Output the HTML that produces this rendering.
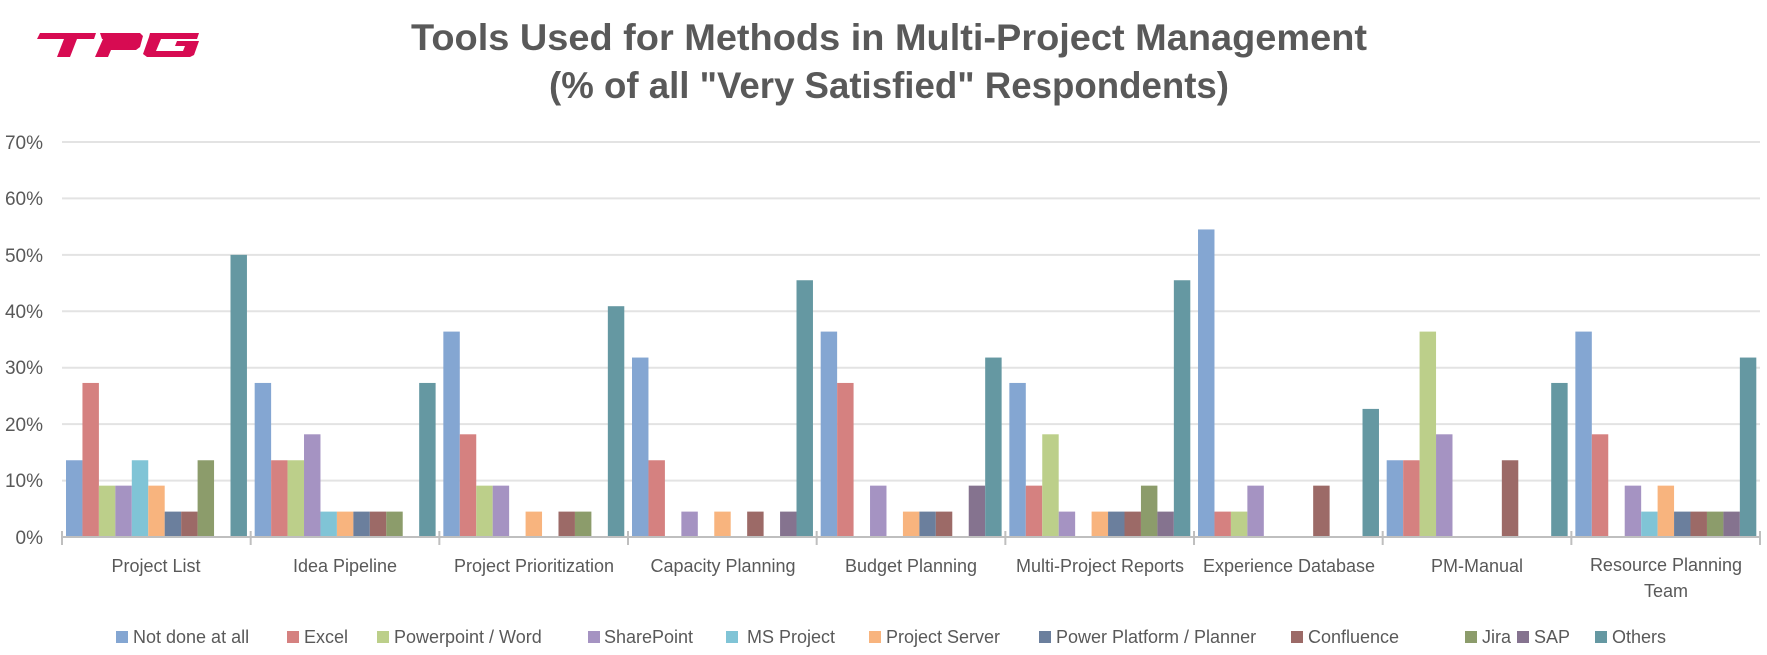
<!DOCTYPE html>
<html><head><meta charset="utf-8"><style>
html,body{margin:0;padding:0;background:#fff;}
svg{display:block;}
text{font-family:"Liberation Sans",sans-serif;fill:#595959;}
</style></head><body>
<svg id="s" width="1767" height="655" viewBox="0 0 1767 655" xmlns="http://www.w3.org/2000/svg">
<!-- logo -->
<g fill="#d70b52">
<polygon points="40,33 96,33 94,39 77,39 70,57 57,57 64,39 37,39"/>
<polygon points="100,33 140,33 143,36 140,47 136,50 111,50 108,57 95,57 103,39 102,39"/>
<polygon points="112,39 109,45 128,45 130,39"/>
<polygon points="150,33 199,33 197,39 161,39 156,51 183,51 185,46 175,46 177,41 199,41 194,55 190,57 147,57 143,54 149,37"/>
</g>
<text x="889" y="50" text-anchor="middle" font-size="37" font-weight="bold" textLength="956" lengthAdjust="spacingAndGlyphs">Tools Used for Methods in Multi-Project Management</text>
<text x="889" y="98" text-anchor="middle" font-size="37" font-weight="bold" textLength="680" lengthAdjust="spacingAndGlyphs">(% of all "Very Satisfied" Respondents)</text>
<g stroke="#e3e3e3" stroke-width="2">
<line x1="62" x2="1760" y1="142" y2="142"/>
<line x1="62" x2="1760" y1="198.4" y2="198.4"/>
<line x1="62" x2="1760" y1="254.9" y2="254.9"/>
<line x1="62" x2="1760" y1="311.3" y2="311.3"/>
<line x1="62" x2="1760" y1="367.7" y2="367.7"/>
<line x1="62" x2="1760" y1="424.1" y2="424.1"/>
<line x1="62" x2="1760" y1="480.6" y2="480.6"/>
</g>
<g font-size="19" text-anchor="end">
<text x="43" y="149">70%</text>
<text x="43" y="205">60%</text>
<text x="43" y="262">50%</text>
<text x="43" y="318">40%</text>
<text x="43" y="374">30%</text>
<text x="43" y="431">20%</text>
<text x="43" y="487">10%</text>
<text x="43" y="544">0%</text>
</g>
<g id="bars"></g>
<g id="axis" stroke="#bfbfbf" stroke-width="2"><line x1="62" x2="1760" y1="537" y2="537"/></g>
<g font-size="18" text-anchor="middle">
<text x="156" y="572">Project List</text>
<text x="345" y="572">Idea Pipeline</text>
<text x="534" y="572">Project Prioritization</text>
<text x="723" y="572">Capacity Planning</text>
<text x="911" y="572">Budget Planning</text>
<text x="1100" y="572">Multi-Project Reports</text>
<text x="1289" y="572">Experience Database</text>
<text x="1477" y="572">PM-Manual</text>
<text x="1666" y="571">Resource Planning</text>
<text x="1666" y="597">Team</text>
</g>
<g font-size="18">
<rect x="116" y="631" width="12" height="12" fill="#84a6d2"/><text x="133" y="643">Not done at all</text>
<rect x="287" y="631" width="12" height="12" fill="#d58180"/><text x="304" y="643">Excel</text>
<rect x="377" y="631" width="12" height="12" fill="#bccf8a"/><text x="394" y="643">Powerpoint / Word</text>
<rect x="588" y="631" width="12" height="12" fill="#a593c2"/><text x="604" y="643">SharePoint</text>
<rect x="726" y="631" width="12" height="12" fill="#80c4d6"/><text x="747" y="643">MS Project</text>
<rect x="869" y="631" width="12" height="12" fill="#f8b47e"/><text x="886" y="643">Project Server</text>
<rect x="1039" y="631" width="12" height="12" fill="#6b7f9d"/><text x="1056" y="643">Power Platform / Planner</text>
<rect x="1291" y="631" width="12" height="12" fill="#9c6a67"/><text x="1308" y="643">Confluence</text>
<rect x="1465" y="631" width="12" height="12" fill="#8c9c6b"/><text x="1482" y="643">Jira</text>
<rect x="1517" y="631" width="12" height="12" fill="#85738f"/><text x="1534" y="643">SAP</text>
<rect x="1595" y="631" width="12" height="12" fill="#6598a2"/><text x="1612" y="643">Others</text>
</g>
</svg>
<script>
var cols=["#84a6d2","#d58180","#bccf8a","#a593c2","#80c4d6","#f8b47e","#6b7f9d","#9c6a67","#8c9c6b","#85738f","#6598a2"];
var d=[
[13.6,27.3,9.1,9.1,13.6,9.1,4.5,4.5,13.6,0,50],
[27.3,13.6,13.6,18.2,4.5,4.5,4.5,4.5,4.5,0,27.3],
[36.4,18.2,9.1,9.1,0,4.5,0,4.5,4.5,0,40.9],
[31.8,13.6,0,4.5,0,4.5,0,4.5,0,4.5,45.5],
[36.4,27.3,0,9.1,0,4.5,4.5,4.5,0,9.1,31.8],
[27.3,9.1,18.2,4.5,0,4.5,4.5,4.5,9.1,4.5,45.5],
[54.5,4.5,4.5,9.1,0,0,0,9.1,0,0,22.7],
[13.6,13.6,36.4,18.2,0,0,0,13.6,0,0,27.3],
[36.4,18.2,0,9.1,4.5,9.1,4.5,4.5,4.5,4.5,31.8]];
var ns="http://www.w3.org/2000/svg",g=document.getElementById("bars"),ax=document.getElementById("axis");
var gw=188.67,bw=16.45,y0=537,k=5.643;
for(var i=0;i<9;i++){
 for(var j=0;j<11;j++){var v=d[i][j];if(!v)continue;
  var r=document.createElementNS(ns,"rect");var h=v*k;
  r.setAttribute("x",62+i*gw+4+j*bw);r.setAttribute("y",y0-h);r.setAttribute("width",bw);r.setAttribute("height",h);r.setAttribute("fill",cols[j]);g.appendChild(r);}
}
for(var i=0;i<=9;i++){var l=document.createElementNS(ns,"line");var x=62+i*gw;if(i==9)x=1760;
 l.setAttribute("x1",x);l.setAttribute("x2",x);l.setAttribute("y1",531);l.setAttribute("y2",545);ax.appendChild(l);}
</script>
</body></html>
